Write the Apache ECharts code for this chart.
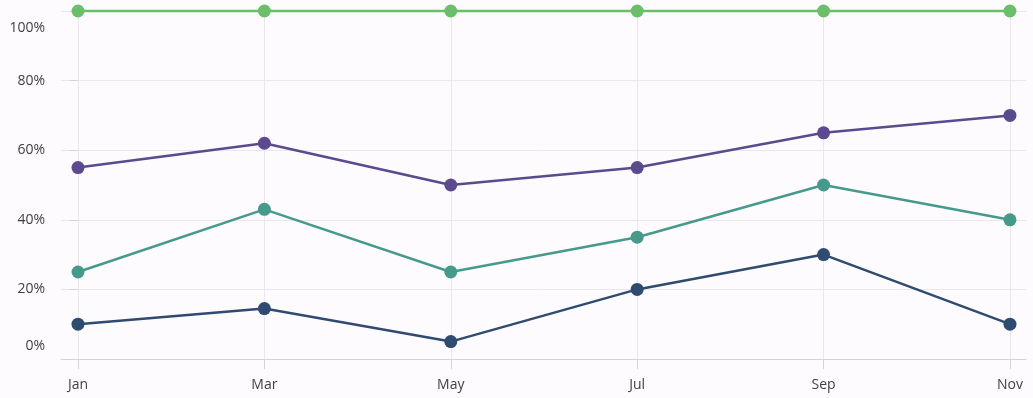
<!DOCTYPE html>
<html>
<head>
<meta charset="utf-8">
<script src="https://cdn.jsdelivr.net/npm/echarts@6/dist/echarts.min.js"></script>
<style>
  html, body { margin: 0; padding: 0; background: #fefbfe; }
  #main { width: 1033px; height: 398px; }
</style>
</head>
<body>
<div id="main"></div>
<script>
// 月份
var months = ['Jan', 'Mar', 'May', 'Jul', 'Sep', 'Nov'];
// 各系列数值（100%堆叠）
var seriesA = [10, 14.5, 5, 20, 30, 10];
var seriesB = [15, 28.5, 20, 15, 20, 30];
var seriesC = [30, 19, 25, 20, 15, 30];
var seriesD = [45, 38, 50, 45, 35, 30];
var yTicks = [0, 20, 40, 60, 80, 100];

var colors = ['#2f4b70', '#459a8b', '#5b4a8d', '#6cbf6a'];
var idx = months.map(function (m, i) { return i; });

// 累加求堆叠后的位置
var running = months.map(function () { return 0; });
var stacked = [seriesA, seriesB, seriesC, seriesD].map(function (arr) {
  return arr.map(function (v, i) {
    running[i] += v;
    return [i, running[i]];
  });
});

var fontFamily = '"Segoe UI", "Open Sans", sans-serif';
var chart = echarts.init(document.getElementById('main'));

var option = {
  backgroundColor: '#fefbfe',
  animation: false,
  grid: { left: 61, right: 7, top: 11, bottom: 39 },
  xAxis: {
    type: 'value',
    min: -0.0912,
    max: 5.086,
    axisLine: { show: true, lineStyle: { color: '#d6d2da', width: 1 } },
    axisTick: { show: true, length: 10, customValues: idx, lineStyle: { color: '#d6d2da' } },
    splitLine: { show: true, lineStyle: { color: '#ebe7ee', width: 1 } },
    axisLabel: {
      customValues: idx,
      margin: 19,
      color: '#3f3f3f',
      fontSize: 14,
      fontFamily: fontFamily,
      formatter: function (v) { return months[Math.round(v)]; }
    }
  },
  yAxis: {
    type: 'value',
    min: 0,
    max: 100,
    interval: 20,
    axisLine: { show: false },
    axisTick: { show: true, length: 9, lineStyle: { color: '#d6d2da' } },
    splitLine: { show: true, lineStyle: { color: '#ebe7ee', width: 1 } },
    axisLabel: {
      margin: 16,
      color: '#3f3f3f',
      fontSize: 14,
      fontFamily: fontFamily,
      padding: [10, 0, 6, 0],
      verticalAlignMaxLabel: 'top',
      verticalAlignMinLabel: 'bottom',
      formatter: '{value}%'
    }
  },
  series: stacked.map(function (d, i) {
    return {
      type: 'line',
      data: d,
      clip: false,
      symbol: 'circle',
      symbolSize: 13,
      showSymbol: true,
      lineStyle: { width: 2.5, color: colors[i] },
      itemStyle: { color: colors[i] }
    };
  })
};

chart.setOption(option);
</script>
</body>
</html>
